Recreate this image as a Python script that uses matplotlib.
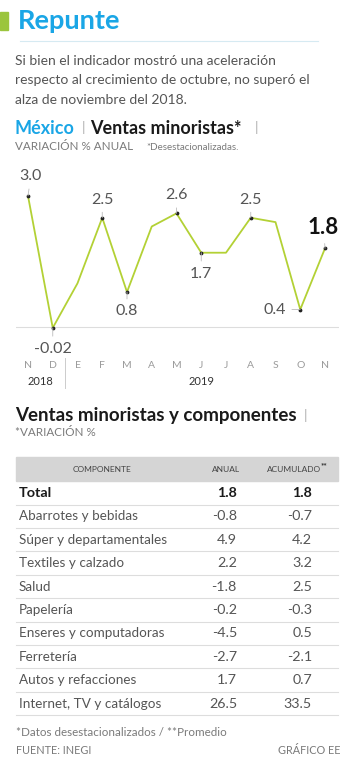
import matplotlib
matplotlib.use("Agg")
import matplotlib.pyplot as plt
from matplotlib.patches import Rectangle

plt.rcParams['font.family'] = ['Lato', 'DejaVu Sans']

# data
months = ['N', 'D', 'E', 'F', 'M', 'A', 'M', 'J', 'J', 'A', 'S', 'O', 'N']
ventas = [3.0, -0.02, 1.0, 2.5, 0.8, 2.3, 2.6, 1.7, 1.7, 2.5, 2.4, 0.4, 1.8]
labels_txt = {0: '3.0', 1: '-0.02', 3: '2.5', 4: '0.8', 6: '2.6', 7: '1.7',
              9: '2.5', 11: '0.4', 12: '1.8'}

componentes = ['Total', 'Abarrotes y bebidas', 'Súper y departamentales',
               'Textiles y calzado', 'Salud', 'Papelería',
               'Enseres y computadoras', 'Ferretería', 'Autos y refacciones',
               'Internet, TV y catálogos']
anual = ['1.8', '-0.8', '4.9', '2.2', '-1.8', '-0.2', '-4.5', '-2.7', '1.7', '26.5']
acumulado = ['1.8', '-0.7', '4.2', '3.2', '2.5', '-0.3', '0.5', '-2.1', '0.7', '33.5']

W, H = 356, 768
BLUE = '#1aa6e6'
GREEN = '#b3d135'
GRAY = '#555555'
LGRAY = '#7a7a7a'
LW = 'normal'


def fx(x):
    return x / W


def fy(y):
    return 1 - y / H


fig = plt.figure(figsize=(W / 100, H / 100), dpi=100)
fig.patch.set_facecolor('white')

# header
fig.patches.append(Rectangle((0, fy(30)), fx(8), 18 / H, transform=fig.transFigure,
                             color='#9bc53d', zorder=2))
fig.text(fx(18), fy(21), 'Repunte', color=BLUE, fontsize=19.5, fontweight='bold',
         va='center', ha='left')
fig.add_artist(plt.Line2D([fx(20), fx(318)], [fy(41), fy(41)], color='#d6eaf2', lw=0.8))

sub = ['Si bien el indicador mostró una aceleración',
       'respecto al crecimiento de octubre, no superó el',
       'alza de noviembre del 2018.']
for i, s in enumerate(sub):
    fig.text(fx(15), fy(61 + i * 19.3), s, color=GRAY, fontsize=10.0,
             fontweight=LW, va='center', ha='left')

fig.text(fx(15), fy(128), 'México', color=BLUE, fontsize=13, fontweight='bold', va='center')
fig.text(fx(82), fy(128), '|', color='#b0b0b0', fontsize=10, fontweight=LW, va='center')
fig.text(fx(90), fy(128), 'Ventas minoristas*', color='#1a1a1a', fontsize=13,
         fontweight='bold', va='center')
fig.text(fx(255), fy(128), '|', color='#b0b0b0', fontsize=10, fontweight=LW, va='center')
fig.text(fx(15), fy(147), 'VARIACIÓN % ANUAL', color=LGRAY, fontsize=8.4,
         fontweight=LW, va='center')
fig.text(fx(146), fy(148), '*Desestacionalizadas.', color=LGRAY, fontsize=7,
         fontweight=LW, va='center')

# line chart
x0, x1 = 28, 325
ppu_x = (x1 - x0) / 12
y0px, ppu_y = 327, 43.7
ax_l, ax_r, ax_t, ax_b = 16, 339, 165, 340
ax = fig.add_axes([fx(ax_l), fy(ax_b), (ax_r - ax_l) / W, (ax_b - ax_t) / H])
ax.set_xlim(-(x0 - ax_l) / ppu_x, 12 + (ax_r - x1) / ppu_x)
ax.set_ylim(-(ax_b - y0px) / ppu_y, (y0px - ax_t) / ppu_y)
ax.axis('off')
ax.axhline(0, color='#dddddd', lw=0.8, zorder=1)
xs = list(range(len(months)))
ax.plot(xs, ventas, color=GREEN, lw=1.3, zorder=2)
pts = list(labels_txt.keys())
ax.scatter(pts, [ventas[i] for i in pts], s=3, color='#222222', zorder=3)

# label offsets (points): dx, dy, ha
offs = {0: (2, 14, 'center'), 1: (0, -15, 'center'), 3: (0, 13, 'center'),
        4: (0, -14, 'center'), 6: (0, 13, 'center'), 7: (0, -15, 'center'),
        9: (0, 13, 'center'), 11: (-10, 0, 'right'), 12: (-1, 15, 'center')}
for i, t in labels_txt.items():
    dx, dy, ha = offs[i]
    bold = (i == 12)
    ax.annotate(t, (i, ventas[i]), xytext=(dx, dy), textcoords='offset points',
                ha=ha, va='center', fontsize=16 if bold else 11.5,
                fontweight='bold' if bold else LW,
                color='#111111' if bold else '#555555',
                arrowprops=dict(arrowstyle='-', color='#bbbbbb', lw=0.6,
                                shrinkA=2, shrinkB=0))

for i, m in enumerate(months):
    ax.text(i, -(366 - y0px) / ppu_y, m, ha='center', va='center',
            fontsize=7.5, color='#9a9a9a', fontweight=LW, clip_on=False)
ax.text(0.5, -(382 - y0px) / ppu_y, '2018', ha='center', va='center',
        fontsize=8, color='#333333', clip_on=False)
ax.text(7, -(382 - y0px) / ppu_y, '2019', ha='center', va='center',
        fontsize=8, color='#333333', clip_on=False)
ax.plot([1.5, 1.5], [-(358 - y0px) / ppu_y, -(388 - y0px) / ppu_y],
        color='#cccccc', lw=0.7, clip_on=False)

# table section
fig.text(fx(15), fy(415), 'Ventas minoristas y componentes', color='#1a1a1a',
         fontsize=13.5, fontweight='bold', va='center')
fig.text(fx(304), fy(415), '|', color='#b0b0b0', fontsize=10, fontweight=LW, va='center')
fig.text(fx(15), fy(433), '*VARIACIÓN %', color=LGRAY, fontsize=8.4,
         fontweight=LW, va='center')

fig.patches.append(Rectangle((fx(16), fy(481)), (338 - 16) / W, 24 / H,
                             transform=fig.transFigure, color='#d5d5d5', zorder=1))
fig.text(fx(102), fy(469), 'COMPONENTE', ha='center', va='center', fontsize=6,
         color='#444444', fontweight=LW)
fig.text(fx(226), fy(469), 'ANUAL', ha='center', va='center', fontsize=6,
         color='#444444', fontweight=LW)
fig.text(fx(294), fy(469), 'ACUMULADO', ha='center', va='center', fontsize=6,
         color='#444444', fontweight=LW)
fig.text(fx(321), fy(466), '**', ha='left', va='center', fontsize=5.8,
         color='#333333', fontweight='bold')

row_h = 23.4
for k, name in enumerate(componentes):
    yc = 493 + k * row_h
    bold = (k == 0)
    wt = 'bold' if bold else LW
    col = '#1a1a1a' if bold else '#555555'
    fs = 10.4 if bold else 9.7
    fig.text(fx(19), fy(yc), name, ha='left', va='center', fontsize=fs,
             fontweight=wt, color=col)
    fig.text(fx(237), fy(yc), anual[k], ha='right', va='center', fontsize=10.3,
             fontweight=wt, color=col)
    fig.text(fx(312), fy(yc), acumulado[k], ha='right', va='center', fontsize=10.3,
             fontweight=wt, color=col)
    fig.add_artist(plt.Line2D([fx(16), fx(338)], [fy(yc + 11.5), fy(yc + 11.5)],
                              color='#dddddd', lw=0.8))

fig.text(fx(16), fy(732), '*Datos desestacionalizados / **Promedio', ha='left',
         va='center', fontsize=8.4, color=LGRAY, fontweight=LW)
fig.text(fx(16), fy(750), 'FUENTE: INEGI', ha='left', va='center', fontsize=7.8,
         color=LGRAY, fontweight=LW)
fig.text(fx(341), fy(750), 'GRÁFICO EE', ha='right', va='center', fontsize=7.8,
         color=LGRAY, fontweight=LW)

fig.savefig('out.png', dpi=100, facecolor='white')
